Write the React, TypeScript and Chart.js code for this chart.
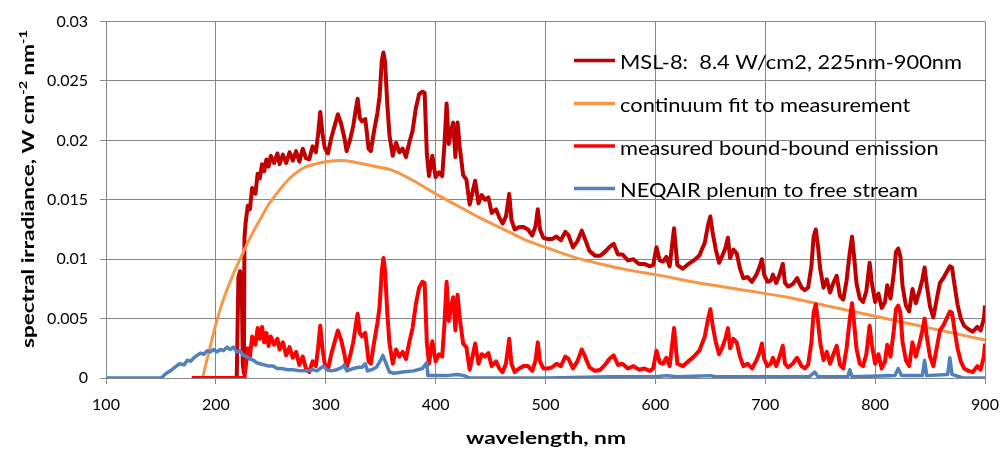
import { useEffect, useRef } from "react";
import { Chart, registerables } from "chart.js";
Chart.register(...registerables);

// ---------- labels ----------
const seriesNames = [
  "MSL-8:  8.4 W/cm2, 225nm-900nm",
  "continuum fit to measurement",
  "measured bound-bound emission",
  "NEQAIR plenum to free stream",
];
const seriesColors = ["#C00000", "#F79646", "#FF0000", "#4F81BD"];
const xTitle = "wavelength, nm";
const yTitleParts = [
  { t: "spectral irradiance, W cm", sup: false },
  { t: "-2", sup: true },
  { t: " nm", sup: false },
  { t: "-1", sup: true },
];
const xTickValues = [100, 200, 300, 400, 500, 600, 700, 800, 900];
const yTickLabels = ["0", "0.005", "0.01", "0.015", "0.02", "0.025", "0.03"];
const yStep = 0.005;

// ---------- measured data (shared wavelength grid from 227 nm) ----------
const measWl = [
  227, 229, 231, 233, 236, 238, 240, 242, 244, 246,
  248, 250, 253, 256, 258, 261, 264, 267, 270, 273,
  276, 279, 282, 285, 288, 291, 293, 295, 297, 299,
  302, 305, 308, 311, 314, 317, 319, 322, 325, 327,
  329, 331, 333, 336, 339, 341, 344, 347, 349, 351,
  352.5, 354, 356, 358, 361, 364, 367, 370, 373, 376,
  379, 382, 385, 388, 390, 392, 394, 397, 400, 403,
  406, 408, 410, 412, 414, 416, 418, 420, 422, 425,
  428, 431, 434, 436, 439, 442, 445, 448, 451, 455,
  458, 461, 464, 467, 469, 472, 476, 480, 484, 488,
  491, 493, 495, 498, 502, 506, 510, 514, 518, 521,
  525, 529, 533, 536, 540, 545, 550, 555, 558, 562,
  566, 570, 575, 580, 585, 590, 595, 598, 601, 604,
  607, 610, 613, 617, 620, 625, 630, 635, 640, 645,
  648, 650, 652, 655, 658, 661, 664, 666, 668, 671,
  674, 677, 680, 684, 688, 692, 695, 697, 699, 702,
  705, 707, 710, 713, 716, 718, 721, 725, 729, 733,
  736, 739, 742, 744, 746, 748, 750, 753, 756, 759,
  762, 765, 768, 771, 774, 777, 779, 781, 783, 786,
  789, 792, 795, 797, 800, 803, 806, 809, 811, 814,
  817, 819, 821, 823, 825, 828, 831, 834, 837, 840,
  843, 845, 847, 850, 853, 856, 859, 862, 865, 868,
  870, 872, 875, 878, 881, 885, 889, 893, 896, 899,
  900,
];

const mslLeadWl = [219, 220.5, 222, 223.5, 224.5, 225.5, 226];
const mslLeadVals = [0, 0.0085, 0.009, 0.0082, 0.0012, 0.0004, 0.0118];
const mslVals = [
  0.0130, 0.0145, 0.0142, 0.0160, 0.0155, 0.0172, 0.0168, 0.0180, 0.0174, 0.0184,
  0.0178, 0.0187, 0.0181, 0.0189, 0.0180, 0.0188, 0.0181, 0.0190, 0.0183, 0.0191,
  0.0182, 0.0193, 0.0185, 0.0184, 0.0195, 0.0190, 0.0205, 0.0224, 0.0206, 0.0194,
  0.0189, 0.0202, 0.0212, 0.0222, 0.0214, 0.0202, 0.0191, 0.0200, 0.0212, 0.0224,
  0.0235, 0.0219, 0.0216, 0.0218, 0.0193, 0.0191, 0.0208, 0.0223, 0.0237, 0.0267,
  0.0274, 0.0266, 0.0231, 0.0204, 0.0187, 0.0198, 0.0190, 0.0193, 0.0186, 0.0198,
  0.0208, 0.0227, 0.0239, 0.0241, 0.0240, 0.0189, 0.0170, 0.0187, 0.0169, 0.0173,
  0.0170, 0.0196, 0.0231, 0.0197, 0.0208, 0.0215, 0.0186, 0.0215, 0.0194, 0.0171,
  0.0167, 0.0146, 0.0158, 0.0166, 0.0147, 0.0154, 0.0150, 0.0152, 0.0139, 0.0142,
  0.0135, 0.0130, 0.0136, 0.0155, 0.0133, 0.0125, 0.0127, 0.0127, 0.0125, 0.0120,
  0.0128, 0.0142, 0.0125, 0.0118, 0.0117, 0.0117, 0.0119, 0.0116, 0.0123, 0.0120,
  0.0110, 0.0115, 0.0124, 0.0117, 0.0107, 0.0103, 0.0103, 0.0107, 0.0110, 0.0113,
  0.0104, 0.0104, 0.0099, 0.0100, 0.0096, 0.0096, 0.0094, 0.0095, 0.0110, 0.0099,
  0.0098, 0.0102, 0.0094, 0.0126, 0.0095, 0.0092, 0.0096, 0.0099, 0.0103, 0.0114,
  0.0129, 0.0136, 0.0123, 0.0108, 0.0097, 0.0103, 0.0110, 0.0118, 0.0101, 0.0108,
  0.0105, 0.0092, 0.0084, 0.0085, 0.0081, 0.0087, 0.0094, 0.0100, 0.0087, 0.0081,
  0.0082, 0.0087, 0.0080, 0.0087, 0.0096, 0.0080, 0.0077, 0.0079, 0.0084, 0.0076,
  0.0074, 0.0076, 0.0094, 0.0119, 0.0125, 0.0111, 0.0092, 0.0076, 0.0083, 0.0072,
  0.0080, 0.0086, 0.0069, 0.0066, 0.0082, 0.0106, 0.0119, 0.0101, 0.0080, 0.0067,
  0.0064, 0.0073, 0.0097, 0.0080, 0.0064, 0.0071, 0.0059, 0.0064, 0.0078, 0.0067,
  0.0088, 0.0106, 0.0109, 0.0102, 0.0077, 0.0061, 0.0056, 0.0075, 0.0063, 0.0072,
  0.0083, 0.0093, 0.0078, 0.0060, 0.0051, 0.0066, 0.0080, 0.0084, 0.0089, 0.0094,
  0.0093, 0.0080, 0.0062, 0.0050, 0.0044, 0.0041, 0.0039, 0.0043, 0.0040, 0.0050,
  0.0061,
];

const bbLeadWl = [178, 226];
const bbLeadVals = [0, 0];
const bbVals = [
  0.0008, 0.0025, 0.0018, 0.0035, 0.0028, 0.0042, 0.0033, 0.0043, 0.0030, 0.0038,
  0.0027, 0.0035, 0.0028, 0.0033, 0.0024, 0.0030, 0.0019, 0.0026, 0.0017, 0.0022,
  0.0011, 0.0018, 0.0008, 0.0005, 0.0014, 0.0010, 0.0025, 0.0044, 0.0025, 0.0012,
  0.0007, 0.0020, 0.0030, 0.0040, 0.0032, 0.0020, 0.0009, 0.0018, 0.0030, 0.0042,
  0.0054, 0.0038, 0.0035, 0.0038, 0.0014, 0.0012, 0.0030, 0.0046, 0.0060, 0.0090,
  0.0101, 0.0090, 0.0055, 0.0029, 0.0012, 0.0024, 0.0018, 0.0022, 0.0016, 0.0030,
  0.0042, 0.0062, 0.0076, 0.0081, 0.0080, 0.0030, 0.0012, 0.0031, 0.0014, 0.0020,
  0.0018, 0.0045, 0.0081, 0.0048, 0.0060, 0.0068, 0.0040, 0.0070, 0.0050, 0.0029,
  0.0026, 0.0007, 0.0020, 0.0029, 0.0012, 0.0020, 0.0018, 0.0021, 0.0010, 0.0014,
  0.0008, 0.0005, 0.0012, 0.0033, 0.0012, 0.0005, 0.0008, 0.0010, 0.0010, 0.0006,
  0.0015, 0.0030, 0.0014, 0.0008, 0.0008, 0.0009, 0.0012, 0.0010, 0.0018, 0.0016,
  0.0008, 0.0014, 0.0024, 0.0018, 0.0009, 0.0006, 0.0007, 0.0012, 0.0016, 0.0019,
  0.0011, 0.0012, 0.0008, 0.0010, 0.0007, 0.0008, 0.0006, 0.0008, 0.0023, 0.0013,
  0.0012, 0.0017, 0.0010, 0.0042, 0.0012, 0.0010, 0.0014, 0.0018, 0.0023, 0.0035,
  0.0050, 0.0058, 0.0045, 0.0030, 0.0020, 0.0026, 0.0034, 0.0042, 0.0025, 0.0033,
  0.0030, 0.0018, 0.0010, 0.0012, 0.0008, 0.0015, 0.0022, 0.0029, 0.0016, 0.0010,
  0.0012, 0.0017, 0.0010, 0.0018, 0.0027, 0.0012, 0.0009, 0.0012, 0.0017, 0.0010,
  0.0008, 0.0011, 0.0030, 0.0055, 0.0062, 0.0048, 0.0030, 0.0015, 0.0022, 0.0012,
  0.0020, 0.0027, 0.0011, 0.0008, 0.0025, 0.0050, 0.0063, 0.0045, 0.0025, 0.0012,
  0.0010, 0.0020, 0.0044, 0.0028, 0.0012, 0.0020, 0.0008, 0.0014, 0.0028, 0.0018,
  0.0040, 0.0058, 0.0061, 0.0055, 0.0030, 0.0015, 0.0010, 0.0030, 0.0018, 0.0028,
  0.0040, 0.0050, 0.0035, 0.0018, 0.0010, 0.0025, 0.0040, 0.0044, 0.0050, 0.0056,
  0.0055, 0.0042, 0.0025, 0.0014, 0.0008, 0.0006, 0.0005, 0.0010, 0.0007, 0.0018,
  0.0029,
];

// ---------- continuum fit ----------
const contWl = [
  188, 191, 195, 199, 203, 208, 213, 218, 222, 228, 234, 240, 248, 256, 264, 272,
  280, 290, 300, 315, 330, 345, 360, 380, 400, 420, 440, 460, 480, 500, 525, 550,
  575, 600, 640, 680, 720, 760, 800, 850, 900,
];
const contVals = [
  0, 0.0012, 0.0027, 0.0042, 0.0055, 0.0069, 0.0081, 0.0092, 0.01, 0.0112, 0.0123,
  0.0133, 0.0146, 0.0156, 0.0165, 0.0172, 0.0177, 0.018, 0.0182, 0.0183, 0.0181,
  0.0178, 0.0175, 0.0166, 0.0155, 0.0145, 0.0135, 0.0126, 0.0117, 0.011, 0.0102,
  0.0096, 0.0091, 0.0087, 0.008, 0.0074, 0.0068, 0.006, 0.0052, 0.0042, 0.0032,
];

// ---------- NEQAIR ----------
const neqWl = [
  100, 150, 155, 160, 164, 167, 171, 174, 177, 180, 183, 186, 189, 192, 195, 198,
  201, 204, 207, 210, 213, 216, 219, 222, 225, 228, 231, 234, 237, 240, 244, 248,
  252, 256, 260, 265, 270, 277, 283, 288, 292, 295, 298, 301, 305, 310, 315, 317,
  319, 325, 330, 333, 336, 338, 342, 346, 350, 352, 355, 358, 362, 370, 380, 388,
  392, 393, 400, 410, 420, 426, 431, 500, 560, 600, 610, 620, 650, 655, 700, 740,
  745, 748, 775, 777, 779, 818, 821, 824, 843, 845, 847, 866, 868, 870, 880, 900,
];
const neqVals = [
  0, 0, 0.0004, 0.0007, 0.001, 0.0012, 0.0011, 0.0015, 0.0014, 0.0017, 0.0019,
  0.0021, 0.002, 0.0023, 0.0022, 0.0024, 0.0022, 0.0024, 0.0023, 0.0026, 0.0024,
  0.0026, 0.0022, 0.0023, 0.0019, 0.0018, 0.0016, 0.0015, 0.0013, 0.0012, 0.0011,
  0.001, 0.001, 0.0008, 0.0008, 0.0007, 0.0007, 0.0006, 0.0006, 0.0007, 0.0006,
  0.0008, 0.001, 0.0007, 0.0006, 0.0007, 0.0009, 0.0011, 0.0006, 0.0008, 0.0009,
  0.0009, 0.0012, 0.0006, 0.0007, 0.0009, 0.0015, 0.0019, 0.0012, 0.0005, 0.0004,
  0.0005, 0.0006, 0.0008, 0.0013, 0.0002, 0.0002, 0.0002, 0.0003, 0.0002, 0, 0,
  0.0001, 0.0001, 0.0002, 0.0001, 0.0002, 0.0001, 0.0001, 0.0001, 0.0005, 0.0001,
  0.0001, 0.0007, 0.0001, 0.0002, 0.0008, 0.0002, 0.0002, 0.0015, 0.0002, 0.0003,
  0.0017, 0.0003, 0, 0,
];

const toPoints = (xs: number[], ys: number[]) => xs.map((x, i) => ({ x, y: ys[i] }));

const FONT = "Lato, 'Open Sans', sans-serif";
const GRID = "#878787";

export default function App() {
  const ref = useRef<HTMLCanvasElement>(null);

  useEffect(() => {
    const canvas = ref.current;
    if (!canvas) return;

    const overlay = {
      id: "overlay",
      afterDraw(chart: any) {
        const ctx = chart.ctx as CanvasRenderingContext2D;
        ctx.save();
        // legend
        ctx.font = `20px ${FONT}`;
        const sx = 342 / ctx.measureText(seriesNames[0]).width;
        const rows = [60.5, 103.5, 146, 188.5];
        seriesNames.forEach((name, i) => {
          const y = rows[i];
          ctx.strokeStyle = seriesColors[i];
          ctx.lineWidth = 3.5;
          ctx.lineCap = "butt";
          ctx.beginPath();
          ctx.moveTo(574, y);
          ctx.lineTo(615, y);
          ctx.stroke();
          ctx.save();
          ctx.translate(620, y + 8.7);
          ctx.scale(sx, 1);
          ctx.fillStyle = "#000";
          ctx.textBaseline = "alphabetic";
          ctx.textAlign = "left";
          ctx.fillText(name, 0, 0);
          ctx.restore();
        });

        // x title
        ctx.font = `bold 17px ${FONT}`;
        const xw = ctx.measureText(xTitle).width;
        const xs = 160 / xw;
        ctx.save();
        ctx.translate(546, 444);
        ctx.scale(xs, 1);
        ctx.fillStyle = "#000";
        ctx.textAlign = "center";
        ctx.textBaseline = "alphabetic";
        ctx.fillText(xTitle, 0, 0);
        ctx.restore();

        // y title with superscripts
        const mainFont = `bold 17px ${FONT}`;
        const supFont = `bold 11px ${FONT}`;
        let total = 0;
        const widths = yTitleParts.map((p) => {
          ctx.font = p.sup ? supFont : mainFont;
          const w = ctx.measureText(p.t).width;
          total += w;
          return w;
        });
        const ys = 318 / total;
        ctx.save();
        ctx.translate(34, 189);
        ctx.rotate(-Math.PI / 2);
        ctx.scale(ys, 1);
        ctx.fillStyle = "#000";
        ctx.textAlign = "left";
        ctx.textBaseline = "alphabetic";
        let cx = -total / 2;
        yTitleParts.forEach((p, i) => {
          ctx.font = p.sup ? supFont : mainFont;
          ctx.fillText(p.t, cx, p.sup ? -7 : 0);
          cx += widths[i];
        });
        ctx.restore();
        ctx.restore();
      },
    };

    const chart = new Chart(canvas, {
      type: "line",
      data: {
        datasets: [
          {
            label: seriesNames[0],
            data: toPoints([...mslLeadWl, ...measWl], [...mslLeadVals, ...mslVals]),
            borderColor: seriesColors[0],
            borderWidth: 4,
            order: 4,
          },
          {
            label: seriesNames[1],
            data: toPoints(contWl, contVals),
            borderColor: seriesColors[1],
            borderWidth: 3,
            cubicInterpolationMode: "monotone",
            order: 3,
          },
          {
            label: seriesNames[2],
            data: toPoints([...bbLeadWl, ...measWl], [...bbLeadVals, ...bbVals]),
            borderColor: seriesColors[2],
            borderWidth: 4,
            order: 2,
          },
          {
            label: seriesNames[3],
            data: toPoints(neqWl, neqVals),
            borderColor: seriesColors[3],
            borderWidth: 3.5,
            order: 1,
          },
        ] as any,
      },
      options: {
        responsive: false,
        animation: false,
        events: [],
        elements: {
          point: { radius: 0 },
          line: { tension: 0, borderJoinStyle: "round", fill: false },
        },
        layout: { padding: { left: 0, right: 21, top: 17, bottom: 0 } },
        plugins: {
          legend: { display: false },
          tooltip: { enabled: false },
          title: { display: false },
        },
        scales: {
          x: {
            type: "linear",
            min: 100,
            max: 900,
            afterFit: (s: any) => {
              s.height = 76;
            },
            afterBuildTicks: (s: any) => {
              s.ticks = xTickValues.map((v) => ({ value: v }));
            },
            ticks: {
              font: { family: FONT, size: 16, lineHeight: 1.7 },
              color: "#000",
              padding: 7,
              maxRotation: 0,
              autoSkip: false,
              callback: (v: any) => String(v),
            },
            grid: { color: GRID, lineWidth: 1, tickLength: 6, tickColor: GRID, drawTicks: true },
            border: { color: GRID, width: 1 },
          },
          y: {
            type: "linear",
            min: 0,
            max: 0.03,
            afterFit: (s: any) => {
              s.width = 106;
            },
            ticks: {
              stepSize: yStep,
              font: { family: FONT, size: 16 },
              color: "#000",
              padding: 12,
              callback: (v: any) => yTickLabels[Math.round(Number(v) / yStep)] ?? "",
            },
            grid: { color: GRID, lineWidth: 1, tickLength: 6, tickColor: GRID, drawTicks: true },
            border: { color: GRID, width: 1 },
          },
        },
      } as any,
      plugins: [overlay],
    });
    return () => chart.destroy();
  }, []);

  return (
    <div style={{ position: "absolute", left: 0, top: 0, width: 1006, height: 454, background: "#fff" }}>
      <canvas ref={ref} width={1006} height={454} style={{ display: "block", width: 1006, height: 454 }} />
    </div>
  );
}
